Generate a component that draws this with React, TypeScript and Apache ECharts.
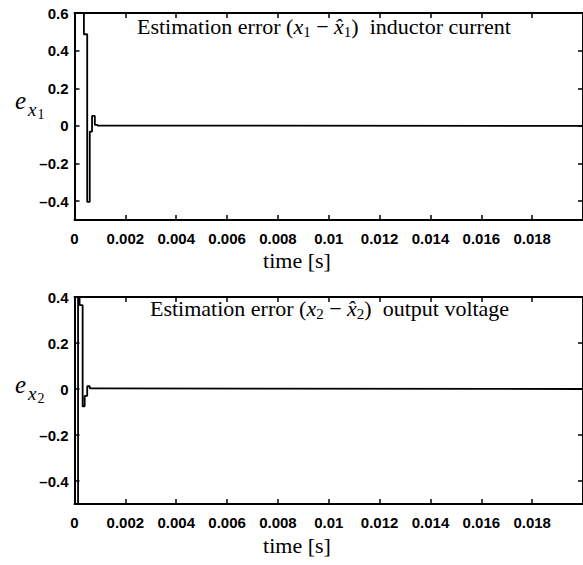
import React, { useEffect, useRef } from "react";
import * as echarts from "echarts";

const xTickLabels = ["0", "0.002", "0.004", "0.006", "0.008", "0.01", "0.012", "0.014", "0.016", "0.018"];
const yTopTicks = [-0.4, -0.2, 0, 0.2, 0.4, 0.6];
const yTopLabels = ["\u20130.4", "\u20130.2", "0", "0.2", "0.4", "0.6"];
const yBotTicks = [-0.4, -0.2, 0, 0.2, 0.4];
const yBotLabels = ["\u20130.4", "\u20130.2", "0", "0.2", "0.4"];

// inductor current estimation error (step samples)
const tTop = [0, 0.00037, 0.0005, 0.0006, 0.00069, 0.0008, 0.0009, 0.001, 0.02];
const eTop = [0.9, 0.487, -0.404, -0.03, 0.053, 0.006, 0.002, 0, 0];
// output voltage estimation error (step samples)
const tBot = [0, 0.00014, 0.0002, 0.00032, 0.0004, 0.0005, 0.0006, 0.0008, 0.02];
const eBot = [-0.9, 0.6, 0.365, -0.075, -0.03, 0.012, 0.003, 0, 0];

const LABEL_FONT = { fontFamily: "Liberation Sans", fontWeight: "bold" as const, fontSize: 15, color: "#000" };
const SERIF = "Liberation Serif";

function xAxes(gridIndex: number) {
  const common = {
    type: "value",
    gridIndex,
    min: 0,
    max: 0.02,
    interval: 0.002,
    splitLine: { show: false },
    axisLine: { show: true, onZero: false, lineStyle: { color: "#000", width: 2 } },
    axisTick: { show: true, inside: true, length: 5, lineStyle: { color: "#000", width: 1.5 } },
  };
  return [
    {
      ...common,
      position: "bottom",
      axisLabel: {
        ...LABEL_FONT,
        margin: 11,
        showMaxLabel: false,
        formatter: (v: number) => xTickLabels[Math.round(v / 0.002)] ?? "",
      },
    },
    { ...common, position: "top", axisLabel: { show: false } },
  ];
}

function yAxes(gridIndex: number, min: number, max: number, ticks: number[], labels: string[]) {
  const common = {
    type: "value",
    gridIndex,
    min,
    max,
    splitLine: { show: false },
    axisLine: { show: true, onZero: false, lineStyle: { color: "#000", width: 2 } },
    axisTick: { show: true, inside: true, length: 5, customValues: ticks, lineStyle: { color: "#000", width: 1.5 } },
  };
  return [
    {
      ...common,
      position: "left",
      axisLabel: {
        ...LABEL_FONT,
        margin: 6,
        customValues: ticks,
        formatter: (v: number) => {
          const i = ticks.findIndex((t) => Math.abs(t - v) < 1e-9);
          return i >= 0 ? labels[i] : "";
        },
      },
    },
    { ...common, position: "right", axisLabel: { show: false } },
  ];
}

function titleText(x: number, y: number, sub: string, tail: string) {
  return {
    type: "text",
    left: x,
    top: y,
    style: {
      text: `{n|Estimation error (}{i|x}{s|${sub}}{n| \u2212 }{i|x\u0302}{s|${sub}}{n|)  ${tail}}`,
      rich: {
        n: { fontFamily: SERIF, fontSize: 22, lineHeight: 26, verticalAlign: "middle", fill: "#000" },
        i: { fontFamily: SERIF, fontStyle: "italic", fontSize: 22, lineHeight: 26, verticalAlign: "middle", fill: "#000" },
        s: { fontFamily: SERIF, fontSize: 15, lineHeight: 13, verticalAlign: "bottom", fill: "#000" },
      },
    },
  };
}

function yName(cy: number, sub: string) {
  return [
    { type: "text", x: 15, y: cy - 2.5, style: { text: "e", fontFamily: SERIF, fontStyle: "italic", fontSize: 25, fill: "#000", verticalAlign: "middle", align: "left" } },
    { type: "text", x: 28, y: cy + 6, style: { text: "x", fontFamily: SERIF, fontStyle: "italic", fontSize: 19, fill: "#000", verticalAlign: "middle", align: "left" } },
    { type: "text", x: 37.5, y: cy + 11, style: { text: sub, fontFamily: SERIF, fontSize: 14, fill: "#000", verticalAlign: "middle", align: "left" } },
  ];
}

export default function App() {
  const ref = useRef<HTMLDivElement>(null);
  useEffect(() => {
    if (!ref.current) return;
    const chart = echarts.init(ref.current, undefined, { renderer: "svg" });
    const topData = tTop.map((t, i) => [t, eTop[i]]);
    const botData = tBot.map((t, i) => [t, eBot[i]]);
    chart.setOption({
      animation: false,
      backgroundColor: "#fff",
      grid: [
        { left: 74.5, top: 13, width: 513, height: 207, containLabel: false },
        { left: 74.5, top: 297, width: 513, height: 207, containLabel: false },
      ],
      xAxis: [...xAxes(0), ...xAxes(1)],
      yAxis: [
        ...yAxes(0, -0.5, 0.6, yTopTicks, yTopLabels),
        ...yAxes(1, -0.5, 0.4, yBotTicks, yBotLabels),
      ],
      series: [
        {
          type: "line",
          xAxisIndex: 0,
          yAxisIndex: 0,
          data: topData,
          step: "end",
          showSymbol: false,
          clip: true,
          lineStyle: { color: "#000", width: 1.8 },
        },
        {
          type: "line",
          xAxisIndex: 2,
          yAxisIndex: 2,
          data: botData,
          step: "end",
          showSymbol: false,
          clip: true,
          lineStyle: { color: "#000", width: 1.8 },
        },
      ],
      graphic: [
        titleText(137, 15, "1", "inductor current"),
        titleText(150, 297, "2", "output voltage"),
        ...yName(103, "1"),
        ...yName(387, "2"),
        { type: "text", x: 297, y: 260, style: { text: "time [s]", fontFamily: SERIF, fontSize: 22, fill: "#000", align: "center", verticalAlign: "middle" } },
        { type: "text", x: 297, y: 545, style: { text: "time [s]", fontFamily: SERIF, fontSize: 22, fill: "#000", align: "center", verticalAlign: "middle" } },
      ],
    });
    return () => chart.dispose();
  }, []);
  return <div ref={ref} style={{ position: "absolute", left: 0, top: 0, width: 583, height: 565 }} />;
}
